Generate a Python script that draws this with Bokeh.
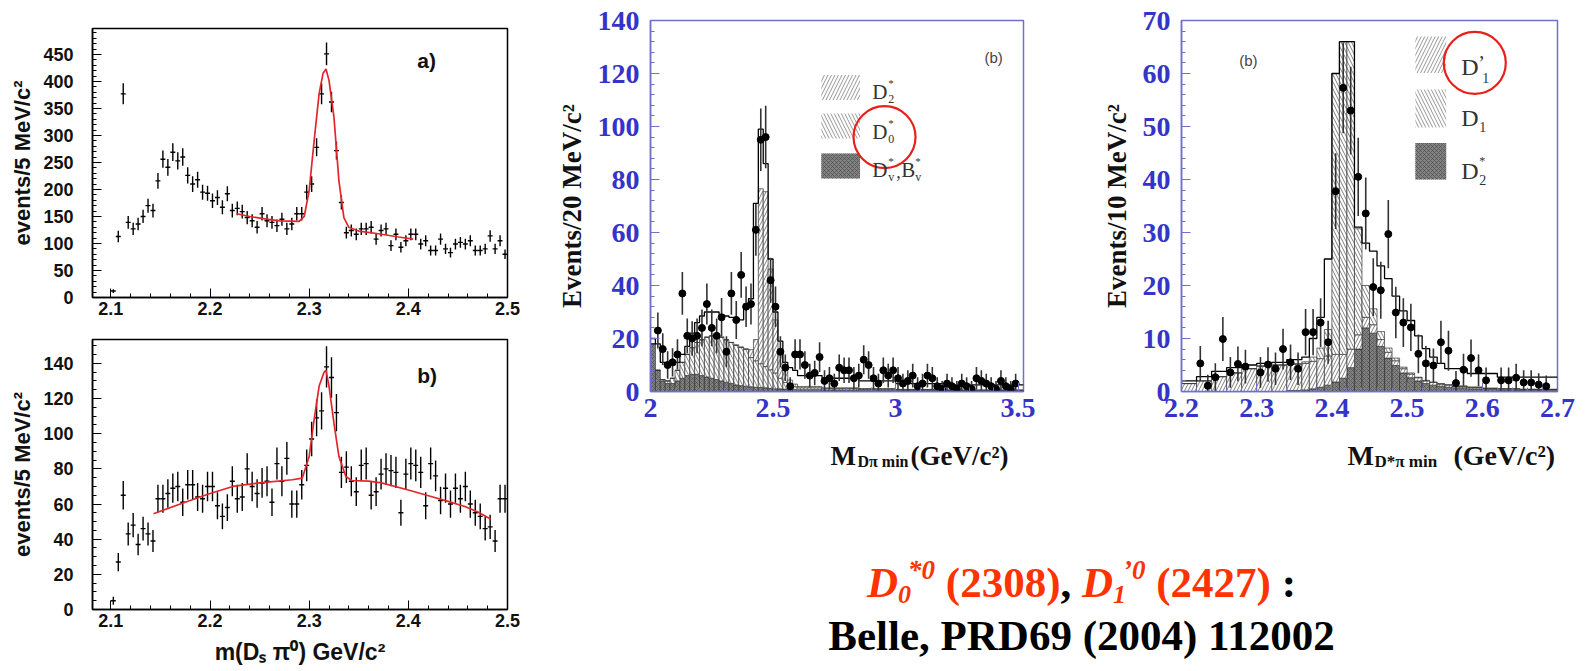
import numpy as np
from bokeh.plotting import figure
from bokeh.layouts import row, column
from bokeh.models import Div, Label, Range1d, SingleIntervalTicker, CustomJSTickFormatter
from bokeh.embed import file_html
from bokeh.resources import INLINE

# ---------------- data ----------------
# Left panels: m(Ds pi0), 5 MeV/c^2 bins starting at 2.100 GeV/c^2
a_start = 2.100
a_width = 0.005
a_counts = [12, 113, 377, 139, 127, 136, 150, 170, 161, 216,
            256, 241, 269, 253, 260, 226, 210, 218, 195, 193,
            179, 185, 167, 192, 161, 165, 159, 148, 142, 130,
            155, 142, 139, 133, 145, 127, 136, 155, 155, 195,
            210, 278, 377, 451, 362, 272, 176, 120, 124, 117,
            127, 127, 130, 108, 124, 127, 96, 117, 93, 105,
            117, 117, 99, 105, 87, 87, 108, 90, 83, 99,
            102, 99, 105, 87, 87, 90, 114, 90, 105, 80]
a_fit_x = [2.227, 2.24, 2.257, 2.27, 2.29, 2.295, 2.30, 2.305, 2.31, 2.314, 2.317,
           2.32, 2.325, 2.33, 2.335, 2.34, 2.35, 2.37, 2.39, 2.405]
a_fit_y = [155, 150, 145, 142, 141, 150, 198, 290, 377, 415, 423,
           402, 334, 216, 148, 130, 123, 118, 112, 108]

b_counts = [5, 27, 65, 43, 48, 37, 46, 43, 39, 63,
            63, 66, 69, 70, 61, 71, 71, 64, 63, 70,
            70, 59, 53, 58, 73, 63, 64, 80, 70, 66,
            72, 73, 61, 83, 73, 86, 60, 60, 71, 82,
            97, 109, 113, 138, 132, 112, 78, 81, 73, 67,
            82, 83, 65, 67, 77, 80, 79, 78, 55, 77,
            83, 82, 78, 59, 83, 76, 62, 69, 60, 69,
            63, 70, 60, 55, 53, 46, 47, 39, 63, 63]
b_fit_x = [2.143, 2.17, 2.2, 2.223, 2.25, 2.283, 2.293, 2.30, 2.305, 2.31, 2.315, 2.317,
           2.32, 2.325, 2.33, 2.337, 2.343, 2.36, 2.373, 2.40, 2.423, 2.44, 2.457, 2.47, 2.483]
b_fit_y = [54.5, 60, 66, 70, 72, 73.8, 74.7, 87, 108, 127, 135, 136,
           127, 106, 87, 75.7, 73.4, 73, 72, 68, 64.3, 61.5, 58.6, 55.5, 51.5]

# Middle panel: M(D pi)min, 20 MeV/c^2 bins
mid_x = [2.03, 2.05, 2.07, 2.09, 2.11, 2.13, 2.15, 2.17, 2.19, 2.21,
         2.23, 2.25, 2.27, 2.29, 2.31, 2.33, 2.35, 2.37, 2.39, 2.41,
         2.43, 2.45, 2.47, 2.49, 2.51, 2.53, 2.55, 2.57, 2.59, 2.61,
         2.63, 2.65, 2.67, 2.69, 2.71, 2.73, 2.75, 2.77, 2.79, 2.81,
         2.83, 2.85, 2.87, 2.89, 2.91, 2.93, 2.95, 2.97, 2.99, 3.01,
         3.03, 3.05, 3.07, 3.09, 3.11, 3.13, 3.15, 3.17, 3.19, 3.21,
         3.23, 3.25, 3.27, 3.29, 3.31, 3.33, 3.35, 3.37, 3.39, 3.41,
         3.43, 3.45, 3.47, 3.49]
mid_y = [23, 16, 10, 11, 14, 37, 21, 20, 21, 24,
         33, 24, 21, 28, 15, 37, 27, 44, 32, 33,
         61, 95, 96, 42, 32, 15, 9, 2, 14, 14,
         10, 6, 7, 13, 4, 5, 3, 9, 8, 8,
         5, 6, 12, 10, 5, 3, 8, 6, 8, 5,
         3, 4, 6, 2, 3, 6, 5, 2, 1, 3,
         2, 1, 3, 2, 1, 5, 4, 3, 2, 1,
         4, 2, 1, 3]
mid_edges = [2.00, 2.02, 2.04, 2.06, 2.08, 2.10, 2.12, 2.14, 2.16, 2.18,
             2.20, 2.22, 2.24, 2.26, 2.28, 2.30, 2.32, 2.34, 2.36, 2.38,
             2.40, 2.42, 2.44, 2.46, 2.48, 2.50, 2.52, 2.54, 2.56, 2.58,
             2.60, 2.70, 2.85, 3.00, 3.20, 3.522]
mid_dv = [18, 8, 4, 3, 3, 4, 5, 6, 6.5, 6.5,
          6, 5.5, 5, 4.5, 4, 3.5, 3, 2.5, 2.2, 2,
          1.8, 1.6, 1.5, 1.4, 1.2, 1, 1, 0.9, 0.8, 0.8,
          0.7, 0.6, 0.5, 0.4, 0.3]
mid_d0 = [0, 0, 0.5, 1, 2, 4, 6, 8, 10, 12,
          13.5, 15, 16, 16.5, 16.5, 16, 15.5, 15, 14.5, 14,
          11, 10, 9, 8, 7, 6, 4, 2.5, 1.5, 1,
          0.7, 0.5, 0.4, 0.3, 0.2]
mid_d2 = [0, 0, 0, 0, 0, 0, 0, 0, 0, 0,
          0, 0, 0, 0, 0, 0, 0, 0, 0, 0,
          3, 8, 66, 66, 38, 20, 10, 5, 2, 1,
          0.5, 0.3, 0.2, 0.1, 0]
mid_total = [20, 18, 11, 10, 10, 11, 14, 17, 22, 26,
             28.5, 30, 30, 30, 29, 28.5, 28, 27.5, 27, 33,
             35, 71, 99, 86, 50, 30, 19, 11, 9, 8,
             6, 5, 4, 3, 2.5]

# Right panel: M(D* pi)min, 10 MeV/c^2 bins
r_x = [2.225, 2.235, 2.245, 2.255, 2.265, 2.275, 2.285,
       2.305, 2.315, 2.325, 2.335, 2.345, 2.355, 2.365, 2.375, 2.385, 2.395,
       2.405, 2.415, 2.425, 2.435, 2.445, 2.455, 2.465, 2.475, 2.485, 2.495,
       2.505, 2.515, 2.525, 2.535, 2.545, 2.555, 2.565, 2.575, 2.585, 2.595, 2.605,
       2.625, 2.635, 2.645, 2.655, 2.665, 2.675, 2.685]
r_y = [5.3, 1.1, 2.7, 9.9, 3.6, 5.2, 4.7,
       3.6, 5.1, 4.3, 8, 5.5, 4.3, 11.2, 11.2, 13, 9.3,
       37.8, 57.3, 53, 40.5, 33.6, 19.7, 19.1, 29.7, 14.9, 13,
       12.1, 7.1, 5.3, 4.9, 9.3, 7.7, 1.6, 4.1, 6.3, 4, 2.1,
       2.1, 2.1, 2.6, 1.7, 1.7, 1.3, 1]
r_edges = [2.20, 2.22, 2.24, 2.26, 2.28, 2.30, 2.32, 2.34, 2.36,
           2.37, 2.38, 2.39, 2.40, 2.41, 2.42, 2.43, 2.44, 2.45, 2.46,
           2.47, 2.48, 2.49, 2.50, 2.51, 2.52, 2.53, 2.54, 2.55, 2.56,
           2.58, 2.60, 2.62, 2.65, 2.70]
r_d2s = [0, 0, 0, 0, 0, 0, 0, 0.2,
         0.3, 0.5, 0.8, 1.2, 1.8, 2.5, 4.5, 8, 12, 11,
         8.5, 6.3, 4.9, 3.5, 2.6, 2, 1.5, 1.2, 1, 0.8,
         0.7, 0.5, 0.4, 0.3, 0.2]
r_d1p = [1.5, 2, 2.8, 3.5, 4.3, 4.8, 5, 5,
         5, 5.2, 5.4, 5.5, 5.2, 4.5, 3.5, 2.7, 2, 1.6,
         1.3, 1.1, 0.9, 0.8, 0.7, 0.6, 0.5, 0.5, 0.4, 0.4,
         0.3, 0.3, 0.2, 0.2, 0.2]
r_d1 = [0, 0, 0, 0, 0, 0, 0, 0,
        0.3, 0.8, 2, 5, 53, 59, 58, 20, 6, 3,
        1.5, 0.8, 0.5, 0.3, 0.2, 0.1, 0.1, 0.1, 0.1, 0.1,
        0, 0, 0, 0, 0]
r_total = [2, 2.8, 3.8, 4.5, 5, 5.3, 5.5, 6,
           6.5, 10, 14, 25, 60, 66, 66, 31, 28, 26.5, 23.7,
           21.3, 18, 15.2, 13.4, 10.5, 8.1, 6.5, 5.3, 4.3,
           4.3, 3.4, 3.4, 2.7, 2.7]

# ---------------- styling helpers ----------------
SERIF = "Liberation Serif"
SANS = "Liberation Sans"
BLUE = "#3434c8"
AXBLUE = "#7070cc"
LEGTXT = "#333333"
RED = "#e8201a"


def style_axes(p, color, font, size, lcolor, lstyle, tick, xstand, ystand):
    for ax in p.axis:
        ax.axis_line_color = color
        ax.axis_line_width = 1.5
        ax.major_tick_line_color = color
        ax.minor_tick_line_color = color
        ax.major_tick_in = tick
        ax.major_tick_out = 0
        ax.minor_tick_in = tick // 2
        ax.minor_tick_out = 0
        ax.major_label_text_font = font
        ax.major_label_text_font_size = f"{size}px"
        ax.major_label_text_color = lcolor
        ax.major_label_text_font_style = lstyle
    p.xaxis.major_label_standoff = xstand
    p.yaxis.major_label_standoff = ystand
    p.xgrid.visible = False
    p.ygrid.visible = False


def txt(p, x, y, text, size, xo=0, yo=0, color=LEGTXT, font=SERIF, style="normal",
        align="left", baseline="middle"):
    p.add_layout(Label(x=x, y=y, text=text, x_offset=xo, y_offset=yo, text_font=font,
                       text_font_size=f"{size}px", text_color=color, text_font_style=style,
                       text_align=align, text_baseline=baseline))


def left_panel(counts, fit_x, fit_y, ymax, yint, ynminor, tag, tag_y, top, fh, bottom, xlabel):
    n = len(counts)
    x = np.array([a_start + a_width * (i + 0.5) for i in range(n)])
    y = np.array(counts, dtype=float)
    err = np.sqrt(np.maximum(y, 1.0))
    p = figure(width=92 + 415 + 23, height=top + fh + bottom, x_range=Range1d(2.0815, 2.5),
               y_range=Range1d(0, ymax), min_border_left=92, min_border_right=23,
               min_border_top=top, min_border_bottom=bottom,
               output_backend="svg", toolbar_location=None)
    p.xaxis.ticker = SingleIntervalTicker(interval=0.1, num_minor_ticks=5)
    p.yaxis.ticker = SingleIntervalTicker(interval=yint, num_minor_ticks=ynminor)
    style_axes(p, "black", SANS, 18, "#111111", "bold", 9, 4, 19)
    p.outline_line_color = "black"
    p.outline_line_width = 1.5
    p.segment(x0=x - a_width / 2, y0=y, x1=x + a_width / 2, y1=y, line_color="black", line_width=1.4)
    p.segment(x0=x, y0=y - err, x1=x, y1=y + err, line_color="black", line_width=1.4)
    p.line(fit_x, fit_y, line_color="#e3262b", line_width=1.7)
    p.yaxis.axis_label = "events/5 MeV/c²"
    p.yaxis.axis_label_text_font = SANS
    p.yaxis.axis_label_text_font_size = "22px"
    p.yaxis.axis_label_text_font_style = "bold"
    p.yaxis.axis_label_text_color = "#111111"
    p.yaxis.axis_label_standoff = 5
    if xlabel:
        p.xaxis.axis_label = xlabel
        p.xaxis.axis_label_text_font = SANS
        p.xaxis.axis_label_text_font_size = "23px"
        p.xaxis.axis_label_text_font_style = "bold"
        p.xaxis.axis_label_text_color = "#111111"
        p.xaxis.axis_label_standoff = 9
    txt(p, 2.409, tag_y, tag, 21, color="#111111", font=SANS, style="bold")
    return p


pa = left_panel(a_counts, a_fit_x, a_fit_y, 498, 50, 5, "a)", 439, 28, 269, 26, None)
pb = left_panel(b_counts, b_fit_x, b_fit_y, 153.6, 20, 4, "b)", 133, 16, 270, 62,
                "m(Dₛ π⁰) GeV/c²")


def hist_stack(p, edges, layers):
    left = np.array(edges[:-1])
    right = np.array(edges[1:])
    base = np.zeros(len(left))
    for vals, kind in layers:
        v = np.array(vals, dtype=float)
        top = base + v
        if kind == "dark":
            p.quad(left=left, right=right, bottom=base, top=top, fill_color="#808080",
                   line_color="#333333", line_width=0.7, hatch_pattern="x",
                   hatch_color="#4a4a4a", hatch_scale=4, hatch_weight=0.6)
        else:
            p.quad(left=left, right=right, bottom=base, top=top, fill_color="white",
                   line_color="#333333", line_width=0.7, hatch_pattern=kind,
                   hatch_color="#707070", hatch_scale=7, hatch_weight=0.9)
        base = top


def swatch(p, x0, x1, y0, y1, kind):
    if kind == "dark":
        p.quad(left=[x0], right=[x1], bottom=[y0], top=[y1], fill_color="#808080",
               line_color=None, hatch_pattern="x", hatch_color="#4a4a4a",
               hatch_scale=4, hatch_weight=0.6)
    else:
        p.quad(left=[x0], right=[x1], bottom=[y0], top=[y1], fill_color="white",
               line_color=None, hatch_pattern=kind, hatch_color="#8a8a8a",
               hatch_scale=7, hatch_weight=0.9)


def style_blue(p, ylabel):
    style_axes(p, AXBLUE, SERIF, 28, BLUE, "bold", 9, 7, 11)
    p.outline_line_color = AXBLUE
    p.outline_line_width = 1.5
    p.yaxis.axis_label = ylabel
    p.yaxis.axis_label_text_font = SERIF
    p.yaxis.axis_label_text_font_size = "27px"
    p.yaxis.axis_label_text_font_style = "bold"
    p.yaxis.axis_label_text_color = "#111111"
    p.yaxis.axis_label_standoff = 8


# ---------------- middle panel ----------------
pm = figure(width=120 + 373 + 67, height=20 + 373 + 45, x_range=Range1d(2.0, 3.522),
            y_range=Range1d(0, 140),
            min_border_left=120, min_border_right=67, min_border_top=20, min_border_bottom=45,
            output_backend="svg", toolbar_location=None)
pm.xaxis.ticker = SingleIntervalTicker(interval=0.5, num_minor_ticks=5)
pm.yaxis.ticker = SingleIntervalTicker(interval=20, num_minor_ticks=5)
pm.xaxis.formatter = CustomJSTickFormatter(code="return Number(tick.toFixed(2)).toString();")
style_blue(pm, "Events/20 MeV/c²")
hist_stack(pm, mid_edges, [(mid_dv, "dark"), (mid_d0, "\\"), (mid_d2, "/")])
pm.step(x=mid_edges, y=mid_total + [mid_total[-1]], mode="after", line_color="black", line_width=1.3)
mx = np.array(mid_x)
my = np.array(mid_y, dtype=float)
merr = np.sqrt(np.maximum(my, 1.0)) + 2
pm.segment(x0=mx, y0=my - merr, x1=mx, y1=my + merr, line_color="#333333", line_width=1.6)
pm.scatter(mx, my, size=7, color="black")
# legend
swatch(pm, 2.697, 2.855, 110, 119.4, "/")
swatch(pm, 2.697, 2.855, 95.5, 104.9, "\\")
swatch(pm, 2.697, 2.855, 80.4, 89.8, "dark")
txt(pm, 2.905, 113.1, "D", 21)
txt(pm, 2.905, 113.1, "2", 12, xo=16, yo=-7)
txt(pm, 2.905, 113.1, "*", 11, xo=16, yo=9)
txt(pm, 2.905, 98.1, "D", 21)
txt(pm, 2.905, 98.1, "0", 12, xo=16, yo=-7)
txt(pm, 2.905, 98.1, "*", 11, xo=16, yo=9)
txt(pm, 2.905, 83.7, "D", 21)
txt(pm, 2.905, 83.7, "v", 12, xo=16, yo=-7)
txt(pm, 2.905, 83.7, "*", 11, xo=16, yo=9)
txt(pm, 2.905, 83.7, ",", 18, xo=24, yo=-2)
txt(pm, 2.905, 83.7, "B", 21, xo=29)
txt(pm, 2.905, 83.7, "v", 12, xo=43, yo=-7)
txt(pm, 2.905, 83.7, "*", 11, xo=43, yo=9)
txt(pm, 3.40, 126, "(b)", 15, color="#444444", font=SANS, align="center")
pm.scatter(x=[2.955], y=[96], marker="circle", size=62, fill_color=None,
           line_color=RED, line_width=2.2)

# ---------------- right panel ----------------
pr = figure(width=91 + 376 + 30, height=19 + 372 + 47, x_range=Range1d(2.2, 2.7),
            y_range=Range1d(0, 70),
            min_border_left=91, min_border_right=30, min_border_top=19, min_border_bottom=47,
            output_backend="svg", toolbar_location=None)
pr.xaxis.ticker = SingleIntervalTicker(interval=0.1, num_minor_ticks=5)
pr.yaxis.ticker = SingleIntervalTicker(interval=10, num_minor_ticks=5)
style_blue(pr, "Events/10 MeV/c²")
hist_stack(pr, r_edges, [(r_d2s, "dark"), (r_d1p, "/"), (r_d1, "\\")])
pr.step(x=r_edges, y=r_total + [r_total[-1]], mode="after", line_color="black", line_width=1.3)
rx = np.array(r_x)
ry = np.array(r_y, dtype=float)
rerr = np.sqrt(np.maximum(ry, 1.0)) + 1
pr.segment(x0=rx, y0=ry - rerr, x1=rx, y1=ry + rerr, line_color="#333333", line_width=1.6)
pr.scatter(rx, ry, size=7, color="black")
swatch(pr, 2.511, 2.552, 60.1, 67, "/")
swatch(pr, 2.511, 2.552, 49.8, 57, "\\")
swatch(pr, 2.511, 2.552, 40, 46.9, "dark")
txt(pr, 2.572, 61.3, "D", 24)
txt(pr, 2.572, 61.3, "’", 20, xo=17, yo=4)
txt(pr, 2.572, 61.3, "1", 14, xo=21, yo=-11)
txt(pr, 2.572, 51.6, "D", 24)
txt(pr, 2.572, 51.6, "1", 14, xo=18, yo=-9)
txt(pr, 2.572, 41.6, "D", 24)
txt(pr, 2.572, 41.6, "2", 14, xo=18, yo=-9)
txt(pr, 2.572, 41.6, "*", 12, xo=18, yo=10)
txt(pr, 2.289, 62.5, "(b)", 15, color="#444444", font=SANS, align="center")
pr.scatter(x=[2.59], y=[62], marker="circle", size=62, fill_color=None,
           line_color=RED, line_width=2.2)

# ---------------- x-axis titles (with subscripts) in a strip below the two plots ----------------
strip = figure(width=1057, height=36, x_range=Range1d(0, 1057), y_range=Range1d(0, 36),
               x_axis_type=None, y_axis_type=None, min_border=0,
               output_backend="svg", toolbar_location=None)
strip.outline_line_color = None
strip.xgrid.visible = False
strip.ygrid.visible = False
TCOL = "#111111"
txt(strip, 300, 19, "M", 27, color=TCOL, style="bold", baseline="alphabetic")
txt(strip, 327, 13, "Dπ min", 16, color=TCOL, style="bold", baseline="alphabetic")
txt(strip, 380, 19, "(GeV/c²)", 27, color=TCOL, style="bold", baseline="alphabetic")
txt(strip, 817, 19, "M", 28, color=TCOL, style="bold", baseline="alphabetic")
txt(strip, 844, 13, "D*π min", 17, color=TCOL, style="bold", baseline="alphabetic")
txt(strip, 923, 19, "(GeV/c²)", 28, color=TCOL, style="bold", baseline="alphabetic")

# ---------------- caption ----------------
CRED = "#ff3300"


def sub(t):
    return f'<span style="font-size:26px;position:relative;top:6px;">{t}</span>'


def sup(t):
    return f'<span style="font-size:27px;position:relative;top:-18px;margin-left:-3px;">{t}</span>'


line1 = (f'<span style="color:{CRED}"><i>D{sub("0")}{sup("*0")}</i> (2308)</span>, '
         f'<span style="color:{CRED}"><i>D{sub("1")}{sup("’0")}</i> (2427)</span> :')
line2 = "Belle, PRD69 (2004) 112002"
caption = Div(text=(
    '<div style="width:1017px;margin-left:38px;padding-top:78px;text-align:center;'
    "font-family:'Liberation Serif','Times New Roman',serif;font-weight:bold;"
    'font-size:43px;color:black;">'
    f'<div style="height:53px;line-height:51px;white-space:nowrap;">{line1}</div>'
    f'<div style="height:51px;line-height:51px;white-space:nowrap;">{line2}</div>'
    '</div>'), width=1057, height=197)

layout = row(column(pa, pb), column(row(pm, pr), strip, caption))

with open("out.html", "w") as f:
    f.write(file_html(layout, INLINE, title="Belle D0*0 / D1'0"))
